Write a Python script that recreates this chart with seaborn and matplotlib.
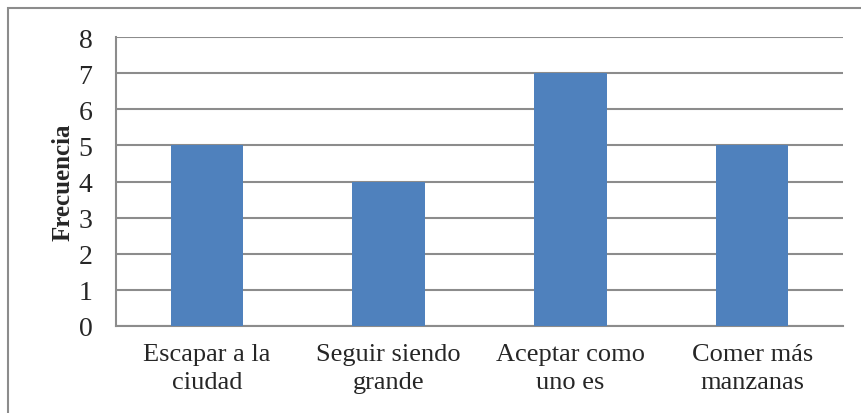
import matplotlib
matplotlib.use("Agg")
import matplotlib.pyplot as plt
import seaborn as sns
import pandas as pd
from matplotlib.patches import Rectangle

categories = ["Escapar a la\nciudad", "Seguir siendo\ngrande", "Aceptar como\nuno es", "Comer más\nmanzanas"]
values = [5, 4, 7, 5]
yticks = [0, 1, 2, 3, 4, 5, 6, 7, 8]

sns.set_style("white")
plt.rcParams['font.family'] = ['Liberation Serif', 'DejaVu Serif']

df = pd.DataFrame({"cat": categories, "val": values})

fig = plt.figure(figsize=(8.61, 4.14), dpi=100)
ax = fig.add_axes([116/861, 1-327/414, (843-116)/861, (327-38)/414])
sns.barplot(data=df, x="cat", y="val", color="#4F81BD", saturation=1, width=0.4, ax=ax, zorder=3,
            linewidth=0)
ax.set_ylim(0, 8)
ax.set_yticks(yticks)
ax.set_yticklabels([str(t) for t in yticks], fontsize=20)
ax.tick_params(axis='x', labelsize=19, length=0, pad=12)
ax.tick_params(axis='y', length=0, pad=17)
ax.set_xlabel("")
ax.set_ylabel("Frecuencia", fontsize=18, fontweight="bold", labelpad=3)
ax.grid(axis='y', color='#8c8c8c', linewidth=1.5, zorder=0)
ax.set_axisbelow(True)
for s in ['top', 'right']:
    ax.spines[s].set_visible(False)
for s in ['left', 'bottom']:
    ax.spines[s].set_color('#8c8c8c')
    ax.spines[s].set_linewidth(1.5)
for lbl in ax.get_xticklabels():
    lbl.set_linespacing(1.4)

fig.patches.append(Rectangle((8/861, -0.05), 1.0, 1-9/414+0.05, transform=fig.transFigure,
                             fill=False, edgecolor='#8c8c8c', linewidth=1.5))
fig.savefig("out.png", dpi=100)
